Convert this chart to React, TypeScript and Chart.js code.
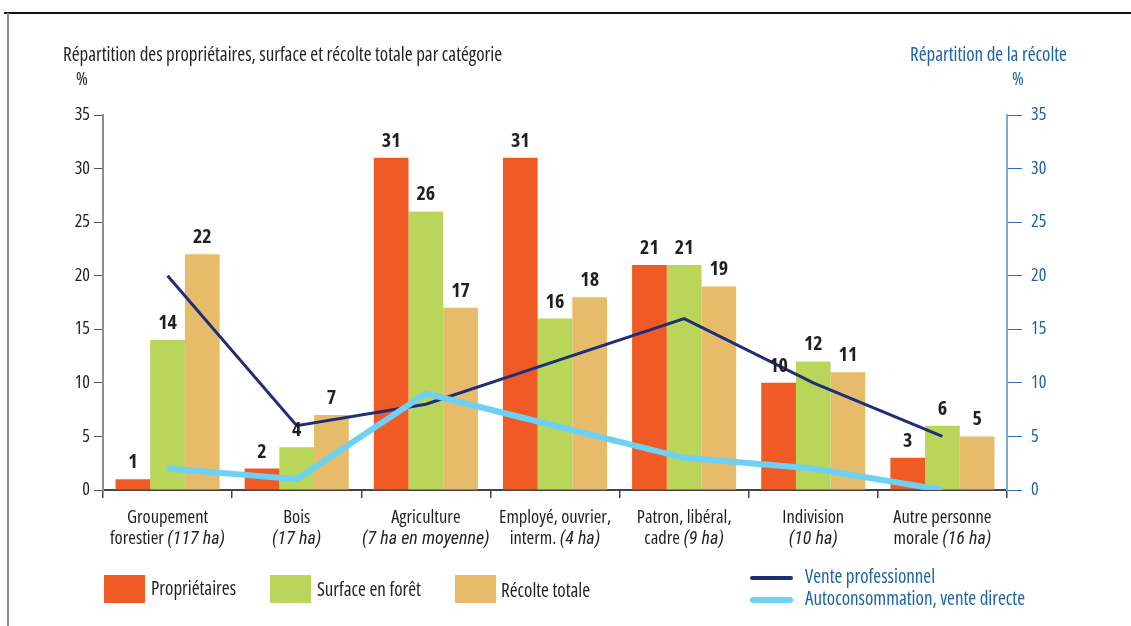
import React, { useEffect, useRef } from "react";
import { Chart, registerables } from "chart.js";

Chart.register(...registerables);

const catLine1 = ["Groupement", "Bois", "Agriculture", "Employé, ouvrier,", "Patron, libéral,", "Indivision", "Autre personne"];
const catLine2Plain = ["forestier ", "", "", "interm. ", "cadre ", "", "morale "];
const catLine2Italic = ["(117 ha)", "(17 ha)", "(7 ha en moyenne)", "(4 ha)", "(9 ha)", "(10 ha)", "(16 ha)"];

const proprietaires = [1, 2, 31, 31, 21, 10, 3];
const surface = [14, 4, 26, 16, 21, 12, 6];
const recolte = [22, 7, 17, 18, 19, 11, 5];
const ventePro = [20, 6, 8, 12, 16, 10, 5];
const autoconso = [2, 1, 9, 6, 3, 2, 0];

const FAM = "'Open Sans', 'Roboto Condensed', sans-serif";
const DARK = "#231f20";
const BLUE = "#1c63a6";
const C_ORANGE = "#f05a24";
const C_GREEN = "#b9d55a";
const C_TAN = "#e6bb6a";
const C_NAVY = "#1f2d7a";
const C_LIGHT = "#6dd0f5";

const f = (w: number, size: number) => `condensed ${w} ${size}px ${FAM}`;

const labelsPlugin = {
  id: "customLabels",
  afterDatasetsDraw(chart: any) {
    const ctx = chart.ctx;
    ctx.save();
    ctx.fillStyle = DARK;
    ctx.font = f(700, 20);
    ctx.textAlign = "center";
    ctx.textBaseline = "alphabetic";
    for (let d = 0; d < 3; d++) {
      const meta = chart.getDatasetMeta(d);
      const data = chart.data.datasets[d].data;
      meta.data.forEach((el: any, i: number) => {
        ctx.fillText(String(data[i]), el.x, el.y - 11);
      });
    }
    const xs = chart.scales.x;
    const y1 = chart.chartArea.bottom + 33;
    const plainFont = f(500, 18.5);
    const italFont = "italic 400 18px 'Roboto Condensed', sans-serif";
    catLine1.forEach((t, i) => {
      const cx = xs.getPixelForValue(i);
      ctx.textAlign = "center";
      ctx.font = plainFont;
      ctx.fillText(t, cx, y1);
      const p = catLine2Plain[i];
      const it = catLine2Italic[i];
      const wp = ctx.measureText(p).width;
      ctx.font = italFont;
      const wi = ctx.measureText(it).width;
      const start = cx - (wp + wi) / 2;
      ctx.textAlign = "left";
      ctx.font = plainFont;
      ctx.fillText(p, start, y1 + 21);
      ctx.font = italFont;
      ctx.fillText(it, start + wp, y1 + 21);
    });
    ctx.restore();
  },
};

export default function App() {
  const ref = useRef<HTMLCanvasElement>(null);
  useEffect(() => {
    document.body.style.margin = "0";
    const labels = catLine1.map((_, i) => String(i));
    const chart = new Chart(ref.current!, {
      type: "bar",
      data: {
        labels,
        datasets: [
          { type: "bar", label: "Propriétaires", data: proprietaires, backgroundColor: C_ORANGE, yAxisID: "y", order: 2 },
          { type: "bar", label: "Surface en forêt", data: surface, backgroundColor: C_GREEN, yAxisID: "y", order: 2 },
          { type: "bar", label: "Récolte totale", data: recolte, backgroundColor: C_TAN, yAxisID: "y", order: 2 },
          { type: "line", label: "Vente professionnel", data: ventePro, borderColor: C_NAVY, borderWidth: 3, pointRadius: 0, yAxisID: "y1", order: 1 } as any,
          { type: "line", label: "Autoconsommation, vente directe", data: autoconso, borderColor: C_LIGHT, borderWidth: 6, pointRadius: 0, yAxisID: "y1", order: 0 } as any,
        ],
      },
      options: {
        animation: false,
        responsive: false,
        maintainAspectRatio: false,
        events: [],
        layout: { padding: { top: 115, left: 0, right: 0, bottom: 0 } },
        datasets: { bar: { categoryPercentage: 0.806, barPercentage: 1 } },
        plugins: { legend: { display: false }, tooltip: { enabled: false } },
        scales: {
          x: {
            offset: true,
            ticks: { display: false },
            grid: { offset: true, drawOnChartArea: false, drawTicks: true, tickLength: 8, color: "#444", lineWidth: 1.5 },
            border: { display: true, color: "#444", width: 2 },
            afterFit: (s: any) => { s.height = 136; },
          },
          y: {
            position: "left",
            min: 0,
            max: 35,
            ticks: { stepSize: 5, color: DARK, font: { family: FAM, size: 18, weight: "condensed 500" }, padding: 4 },
            grid: { drawOnChartArea: false, drawTicks: true, tickLength: 9, color: "#555", lineWidth: 1 },
            border: { display: true, color: "#8c8c8c", width: 2 },
            afterFit: (s: any) => { s.width = 103; },
          },
          y1: {
            position: "right",
            min: 0,
            max: 35,
            ticks: { stepSize: 5, color: BLUE, font: { family: FAM, size: 18, weight: "condensed 500" }, padding: 9 },
            grid: { drawOnChartArea: false, drawTicks: true, tickLength: 15, color: "#2f6fb0", lineWidth: 1 },
            border: { display: true, color: "#7ea8cf", width: 2 },
            afterFit: (s: any) => { s.width = 124; },
          },
        },
      } as any,
      plugins: [labelsPlugin],
    });
    return () => chart.destroy();
  }, []);

  const txt: React.CSSProperties = { position: "absolute", fontFamily: FAM, fontStretch: "condensed", fontWeight: 500, fontSize: 19, color: DARK, whiteSpace: "nowrap", lineHeight: "22px" };
  const sq = (left: number, color: string): React.CSSProperties => ({ position: "absolute", left, top: 575, width: 41, height: 28, background: color });

  return (
    <div style={{ position: "relative", width: 1131, height: 626, overflow: "hidden", background: "#fff" }}>
      <div style={{ position: "absolute", left: 4, top: 12, right: 0, height: 2, background: "#111" }} />
      <div style={{ position: "absolute", left: 7, top: 13, width: 2, bottom: 0, background: "#8c8c8c" }} />
      <canvas ref={ref} width={1131} height={626} style={{ position: "absolute", left: 0, top: 0 }} />
      <div style={{ ...txt, left: 63, top: 43 }}>Répartition des propriétaires, surface et récolte totale par catégorie</div>
      <div style={{ ...txt, left: 76, top: 67, fontSize: 18 }}>%</div>
      <div style={{ ...txt, left: 910, top: 43, color: BLUE }}>Répartition de la récolte</div>
      <div style={{ ...txt, left: 1012, top: 67, fontSize: 18, color: BLUE }}>%</div>
      <div style={sq(104, C_ORANGE)} />
      <div style={{ ...txt, left: 151, top: 577 }}>Propriétaires</div>
      <div style={sq(270, C_GREEN)} />
      <div style={{ ...txt, left: 317, top: 578 }}>Surface en forêt</div>
      <div style={sq(455, C_TAN)} />
      <div style={{ ...txt, left: 501, top: 579 }}>Récolte totale</div>
      <div style={{ position: "absolute", left: 750, top: 576, width: 43, height: 4, background: C_NAVY, borderRadius: 2 }} />
      <div style={{ ...txt, left: 805, top: 565, color: BLUE }}>Vente professionnel</div>
      <div style={{ position: "absolute", left: 750, top: 597, width: 43, height: 6, background: C_LIGHT, borderRadius: 3 }} />
      <div style={{ ...txt, left: 805, top: 587, color: BLUE }}>Autoconsommation, vente directe</div>
    </div>
  );
}
